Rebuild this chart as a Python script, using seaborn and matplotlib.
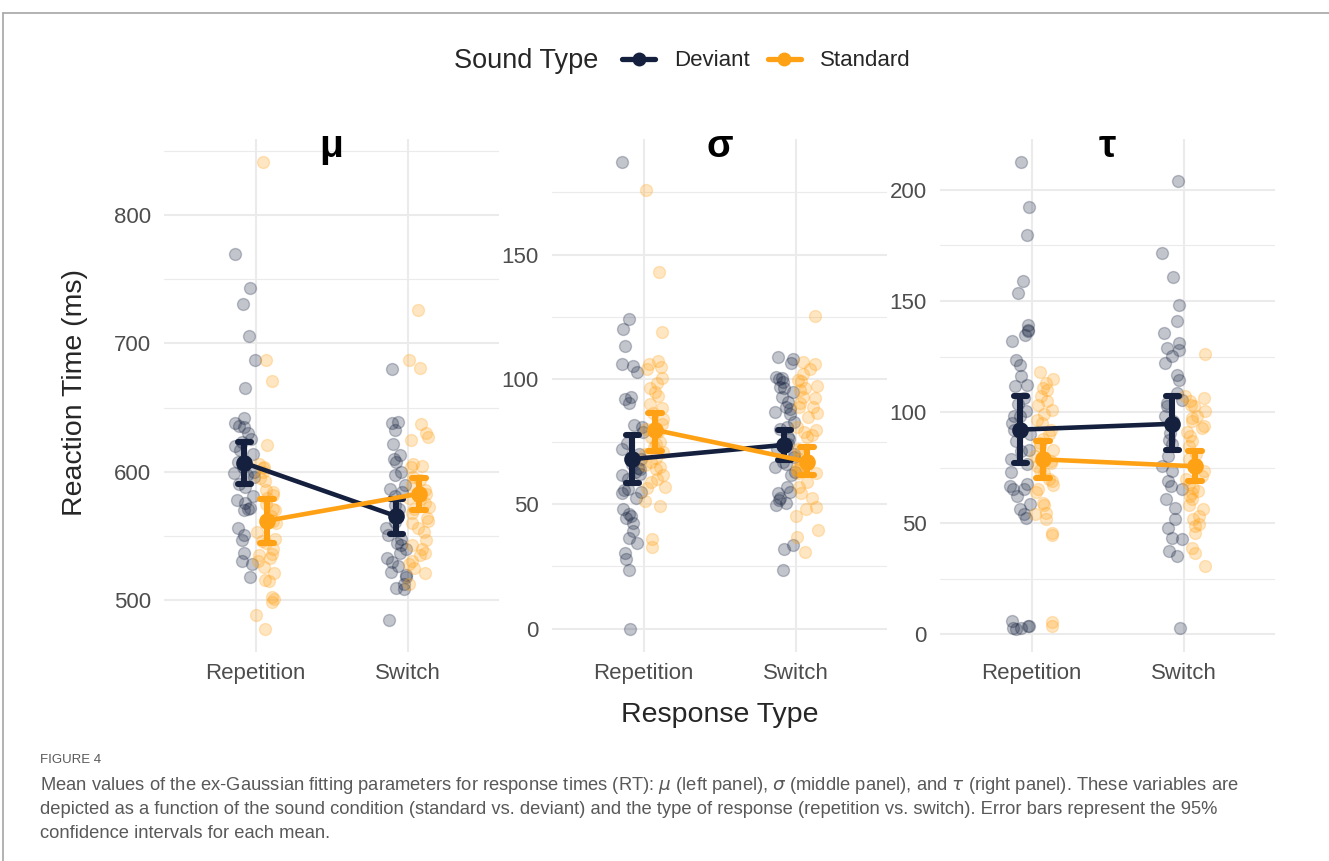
import numpy as np
import pandas as pd
import matplotlib
matplotlib.use("Agg")
import matplotlib.pyplot as plt
import seaborn as sns
from matplotlib.transforms import Affine2D
from matplotlib.lines import Line2D
from matplotlib.ticker import MultipleLocator

# ---------------- data ----------------
responses = ["Repetition", "Switch"]
sounds = ["Deviant", "Standard"]
params = ["μ", "σ", "τ"]

mu_rep_dev = [770, 743, 731, 706, 687, 665, 642, 638, 636, 635, 630, 626, 623, 620, 617, 614, 608, 604, 600,
              599, 598, 596, 591, 588, 581, 578, 576, 572, 571, 570, 556, 551, 547, 537, 531, 528, 518]
mu_rep_std = [841, 687, 671, 621, 606, 604, 603, 600, 595, 593, 586, 584, 582, 580, 575, 571, 570, 566, 562,
              560, 553, 548, 546, 545, 540, 536, 535, 533, 531, 526, 521, 516, 515, 503, 501, 499, 489, 478]
mu_sw_dev = [680, 639, 638, 633, 622, 613, 610, 608, 600, 598, 590, 587, 584, 581, 574, 571, 565, 561, 556,
             551, 548, 545, 543, 540, 537, 533, 530, 527, 522, 520, 518, 513, 510, 509, 485]
mu_sw_std = [726, 687, 681, 637, 630, 627, 625, 606, 605, 604, 596, 594, 590, 586, 583, 580, 579, 576, 573,
             571, 568, 564, 562, 560, 556, 553, 547, 543, 540, 537, 535, 531, 528, 525, 521, 513]

sigma_rep_dev = [187, 124, 120, 113.5, 106, 105.5, 103, 93, 92, 90.5, 81.5, 81, 79, 74.5, 72, 70, 68, 66, 64.5,
                 64, 63, 62, 61.5, 60, 56, 55.5, 55, 54.5, 52.5, 48, 46, 45, 44.5, 42.5, 39, 36.5, 34.5, 30.5,
                 28, 23.5, 0]
sigma_rep_std = [176, 143, 119, 107.5, 106, 105, 104, 100.5, 98.5, 96.5, 95, 93.5, 90, 88.5, 86.5, 84, 82, 80,
                 79, 77, 75, 74, 73, 71, 70, 68.5, 67, 65.7, 65, 64, 61.6, 60, 59, 57, 56.3, 51.3, 49.2, 35.8,
                 32.6]
sigma_sw_dev = [109, 108, 106.5, 101, 100.5, 100, 99, 97, 96.5, 95, 93, 91, 89, 88, 87, 86, 83, 81, 80, 77, 76,
                74, 72, 70, 69, 67, 66, 65, 63, 61.5, 57, 55, 54.5, 52.5, 51.5, 50.5, 49.5, 33.5, 32, 23.5]
sigma_sw_std = [125.5, 107, 106, 104, 102, 99.8, 99.2, 97.2, 96.5, 95.8, 93, 92.5, 90.5, 89, 89, 86.5, 85, 81,
                79.7, 79, 77.7, 77, 72, 70, 68, 65, 64, 63.7, 62.3, 62.3, 59, 57, 54.3, 52.3, 48.9, 47.8, 45.2,
                39.5, 36.6, 30.8]

tau_rep_dev = [212.4, 192.2, 179.8, 159.1, 153.6, 139.3, 137.1, 136.3, 134.8, 131.8, 123.6, 121.3, 116.1, 112,
               111.6, 106.4, 103.4, 100.4, 98.1, 98.1, 95.1, 92, 90, 86.9, 83.1, 82.4, 78.7, 76.4, 72.9, 67.4,
               66.7, 65.2, 65.2, 62.2, 58.4, 56.2, 53.9, 52.4, 6, 3.5, 3.5, 3, 3, 2.5]
tau_rep_std = [118, 115, 113, 111, 110, 107, 105, 103, 101, 99, 96.6, 95, 92, 90.3, 88, 86, 84.6, 83, 80, 78, 77,
               75.6, 74, 72.7, 70, 69, 67, 65.2, 64, 59, 58, 54.7, 54, 51.7, 45.7, 44.5, 5.5, 3.7]
tau_sw_dev = [204, 171.5, 161, 148.3, 140.8, 135.6, 131.1, 128.9, 128.1, 125.1, 122.1, 116.9, 114.6, 108.6,
              105.6, 104.2, 102.6, 98.1, 95.9, 90.6, 87.3, 85.4, 80.1, 75.6, 73.4, 68.9, 66.7, 65.2, 60.7, 56.9,
              51.7, 47.9, 43.5, 42.7, 37.4, 35.2, 3]
tau_sw_std = [126, 107, 106.4, 105, 103, 102.6, 100.4, 98, 97.4, 96, 93.6, 92.9, 91, 89, 87, 84.6, 81, 78.7, 76,
              73.4, 71, 69.7, 67.4, 66, 64.4, 63.7, 62, 60.7, 58, 56.2, 53.2, 52, 49.4, 48.7, 45.7, 39, 36.7,
              30.7]

# means and 95% CI (order: Repetition, Switch)
mu_mean_dev = [607, 565.5]
mu_ci_dev = [[591, 623], [552, 579]]
mu_mean_std = [562, 583]
mu_ci_std = [[545, 579], [570, 595.3]]
sigma_mean_dev = [68, 73.7]
sigma_ci_dev = [[58.5, 77.7], [67.7, 79.7]]
sigma_mean_std = [79.7, 67]
sigma_ci_std = [[71.4, 86.4], [61.6, 72.8]]
tau_mean_dev = [92.1, 94.7]
tau_ci_dev = [[77.2, 107.1], [82.8, 107.1]]
tau_mean_std = [78.7, 75.6]
tau_ci_std = [[70.4, 86.9], [68.9, 82.4]]

major_steps = [100, 50, 50]

# ---------------- tidy tables ----------------
raw = {
    "μ": {("Deviant", "Repetition"): mu_rep_dev, ("Standard", "Repetition"): mu_rep_std,
          ("Deviant", "Switch"): mu_sw_dev, ("Standard", "Switch"): mu_sw_std},
    "σ": {("Deviant", "Repetition"): sigma_rep_dev, ("Standard", "Repetition"): sigma_rep_std,
          ("Deviant", "Switch"): sigma_sw_dev, ("Standard", "Switch"): sigma_sw_std},
    "τ": {("Deviant", "Repetition"): tau_rep_dev, ("Standard", "Repetition"): tau_rep_std,
          ("Deviant", "Switch"): tau_sw_dev, ("Standard", "Switch"): tau_sw_std},
}
rows = []
for p, d in raw.items():
    for (s, r), vals in d.items():
        for v in vals:
            rows.append((p, s, r, v))
points = pd.DataFrame(rows, columns=["param", "sound", "response", "value"])

summ = {
    "μ": {"Deviant": (mu_mean_dev, mu_ci_dev), "Standard": (mu_mean_std, mu_ci_std)},
    "σ": {"Deviant": (sigma_mean_dev, sigma_ci_dev), "Standard": (sigma_mean_std, sigma_ci_std)},
    "τ": {"Deviant": (tau_mean_dev, tau_ci_dev), "Standard": (tau_mean_std, tau_ci_std)},
}
srows = []
for p, d in summ.items():
    for s, (means, cis) in d.items():
        for r, m, (lo, hi) in zip(responses, means, cis):
            for v in (lo, m, hi):
                srows.append((p, s, r, v))
summary = pd.DataFrame(srows, columns=["param", "sound", "response", "value"])

# ---------------- style ----------------
dark = "#14203D"
orange = "#FFA114"
colors = {"Deviant": dark, "Standard": orange}
grid_c = "#EBEBEB"
tick_c = "#4D4D4D"

sns.set_style("white")
plt.rcParams["font.family"] = ["Liberation Sans", "DejaVu Sans"]

W, H = 1329, 861
fig = plt.figure(figsize=(W / 100, H / 100), dpi=100)

lefts = [164, 552, 940]
ax_w, ax_top, ax_bot = 335, 139, 652
dodge_off = 0.074
np.random.seed(7)

for p, left, step in zip(params, lefts, major_steps):
    ax = fig.add_axes([left / W, (H - ax_bot) / H, ax_w / W, (ax_bot - ax_top) / H])
    sub = points[points.param == p]
    for s, off in zip(sounds, [-dodge_off, dodge_off]):
        ss = sub[sub.sound == s]
        sns.stripplot(data=ss, x="response", y="value", order=responses, color=colors[s],
                      jitter=0.07, size=8.6, alpha=0.26, linewidth=1.0, edgecolor=colors[s],
                      ax=ax, zorder=1,
                      transform=Affine2D().translate(off, 0) + ax.transData)
    sns.pointplot(data=summary[summary.param == p], x="response", y="value", hue="sound",
                  order=responses, hue_order=sounds, palette=colors,
                  estimator="median", errorbar=("pi", 100), dodge=2 * dodge_off,
                  capsize=0.09, markers="o", markersize=9.5, linewidth=3.3,
                  err_kws={"linewidth": 4.4}, legend=False, ax=ax)

    vmin, vmax = sub.value.min(), sub.value.max()
    pad = 0.05 * (vmax - vmin)
    ax.set_ylim(vmin - pad, vmax + pad)
    ax.set_xlim(-0.603, 1.601)
    ax.yaxis.set_major_locator(MultipleLocator(step))
    ax.yaxis.set_minor_locator(MultipleLocator(step / 2))
    ax.grid(axis="y", which="major", color=grid_c, lw=1.5, zorder=0)
    ax.grid(axis="y", which="minor", color=grid_c, lw=0.8, zorder=0)
    ax.grid(axis="x", which="major", color=grid_c, lw=1.5, zorder=0)
    ax.set_axisbelow(True)
    for sp in ax.spines.values():
        sp.set_visible(False)
    ax.tick_params(axis="both", which="both", length=0, labelsize=16, labelcolor=tick_c)
    ax.tick_params(axis="y", pad=9.5)
    ax.tick_params(axis="x", pad=8)
    ax.set_xlabel("")
    ax.set_ylabel("")
    ax.text(0.5, 0.965, p, transform=ax.transAxes, ha="center", va="baseline",
            fontsize=28, fontweight="bold", color="black")

# axis labels
fig.text(719.5 / W, 1 - 715 / H, "Response Type", ha="center", va="center", fontsize=20.5)
fig.text(75 / W, 1 - 393 / H, "Reaction Time (ms)", ha="center", va="center", rotation=90, fontsize=20.5)

# legend
fig.text(454 / W, 1 - 61 / H, "Sound Type", ha="left", va="center", fontsize=19.5)
handles = [Line2D([], [], color=colors[s], lw=3.8, marker="o", ms=9) for s in sounds]
fig.legend(handles, sounds, ncol=2, loc="center left", bbox_to_anchor=(622 / W, 1 - 61 / H),
           frameon=False, fontsize=16, handlelength=1.5, handletextpad=0.85, columnspacing=0.8,
           borderpad=0, borderaxespad=0)

# frame lines
fig.add_artist(Line2D([3 / W, 1], [1 - 13 / H, 1 - 13 / H], transform=fig.transFigure, color="#A6A6A6", lw=1.2))
fig.add_artist(Line2D([3 / W, 3 / W], [0, 1 - 13 / H], transform=fig.transFigure, color="#A6A6A6", lw=1.2))

# caption
cap_c = "#595959"
cap_font = ["Liberation Sans Narrow", "Liberation Sans", "DejaVu Sans"]
fig.text(40 / W, 1 - 760 / H, "FIGURE 4", ha="left", va="center", fontsize=9.5, color=cap_c, family=cap_font)
lines = [
    "Mean values of the ex-Gaussian fitting parameters for response times (RT): $\\mu$ (left panel), "
    "$\\sigma$ (middle panel), and $\\tau$ (right panel). These variables are",
    "depicted as a function of the sound condition (standard vs. deviant) and the type of response "
    "(repetition vs. switch). Error bars represent the 95%",
    "confidence intervals for each mean.",
]
cap_texts = []
for ln, yy in zip(lines, [786, 810, 833]):
    cap_texts.append(fig.text(40 / W, 1 - yy / H, ln, ha="left", va="center", fontsize=12,
                              color=cap_c, family=cap_font))
renderer = fig.canvas.get_renderer()
wpx = cap_texts[0].get_window_extent(renderer).width
fs = 12 * 1197 / wpx
for t in cap_texts:
    t.set_fontsize(fs)

fig.savefig("out.png", dpi=100)
